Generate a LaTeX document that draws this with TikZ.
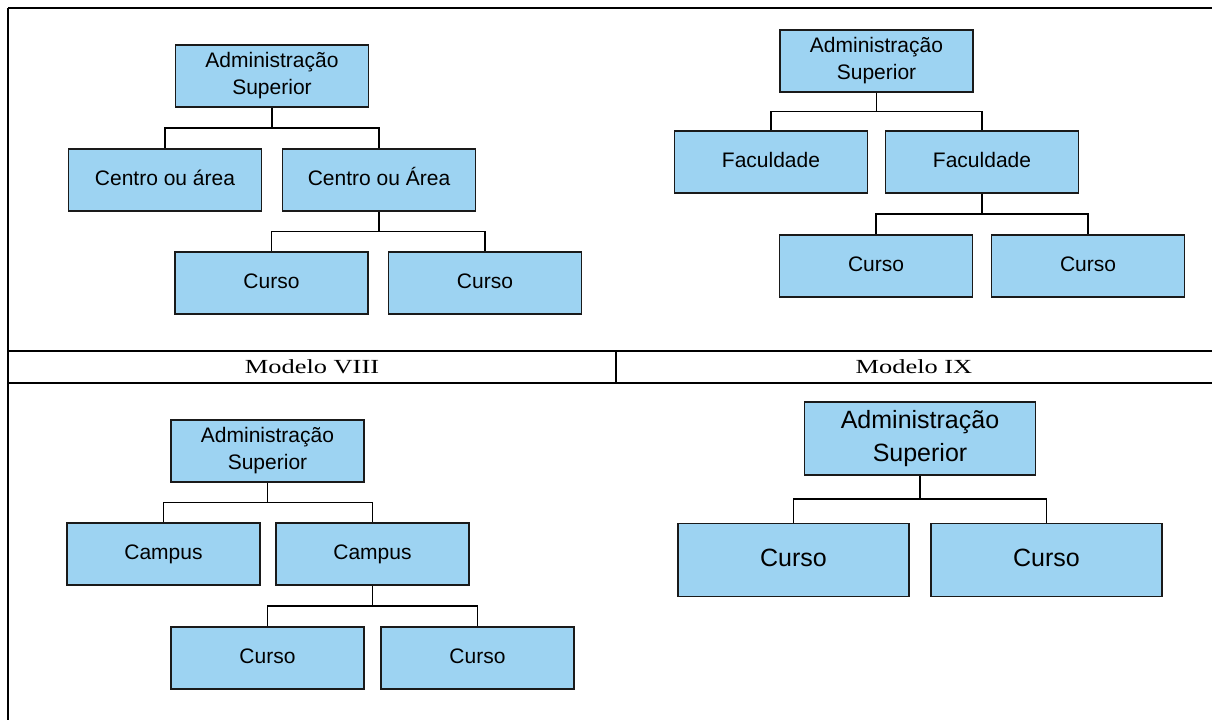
\documentclass[tikz,border=0pt]{standalone}
\usepackage{fontspec}
\usetikzlibrary{calc}
\newfontfamily\arialf{Liberation Sans}
\newfontfamily\timesf{Liberation Serif}
\definecolor{boxblue}{HTML}{9DD3F2}
\definecolor{boxline}{HTML}{1A1A1A}
\tikzset{
  orgbox/.style={draw=boxline, fill=boxblue, line width=1.6pt, inner sep=0pt, align=center,
    font=\arialf\fontsize{21}{27}\selectfont, minimum width=193pt, minimum height=62pt},
  onebox/.style={orgbox, text height=15pt, text depth=5pt},
  bigbox/.style={orgbox, font=\arialf\fontsize{25}{33}\selectfont, minimum width=231pt, minimum height=73pt},
  bigone/.style={bigbox, text height=18pt, text depth=6pt},
  conn/.style={draw=black, line width=1.7pt},
  frameline/.style={draw=black, line width=1.8pt},
  caption/.style={font=\timesf\fontsize{20}{24}\selectfont, xscale=1.32, inner sep=0pt}
}
\begin{document}
\begin{tikzpicture}[x=1pt,y=-1pt]
\useasboundingbox (0,0) rectangle (1212,720);
% table lines
\draw[frameline] (8,8) -- (1212,8);
\draw[frameline] (8,8) -- (8,720);
\draw[frameline, line width=1.5pt] (8,351) -- (1212,351);
\draw[frameline, line width=2pt] (8,383) -- (1212,383);
\draw[frameline, line width=1.5pt] (616,351) -- (616,383);
\node[caption] (capa) at (312,367) {Modelo VIII};
\node[caption] (capb) at (914,367) {Modelo IX};

% --- Top-left: Modelo VIII
\node[orgbox] (a1) at (272,76) {Administração\\Superior};
\node[onebox] (b1) at (165,180) {Centro ou área};
\node[onebox] (b2) at (379,180) {Centro ou Área};
\node[onebox] (c1) at (271.5,283) {Curso};
\node[onebox] (c2) at (485,283) {Curso};
\coordinate (m1) at ($(a1.south)!.5!(b1.north)$);
\draw[conn] (a1.south) -- (a1.south |- m1);
\draw[conn] (b1.north) |- (m1) -| (b2.north);
\coordinate (m2) at ($(b2.south)!.5!(c1.north)$);
\draw[conn] (b2.south) -- (b2.south |- m2);
\draw[conn] (c1.north) |- (m2) -| (c2.north);

% --- Top-right: Modelo IX
\node[orgbox] (a2) at (876.5,61) {Administração\\Superior};
\node[onebox] (f1) at (771,162) {Faculdade};
\node[onebox] (f2) at (982,162) {Faculdade};
\node[onebox] (k1) at (876,266) {Curso};
\node[onebox] (k2) at (1088,266) {Curso};
\coordinate (m3) at ($(a2.south)!.5!(f1.north)$);
\draw[conn] (a2.south) -- (a2.south |- m3);
\draw[conn] (f1.north) |- (m3) -| (f2.north);
\coordinate (m4) at ($(f2.south)!.5!(k1.north)$);
\draw[conn] (f2.south) -- (f2.south |- m4);
\draw[conn] (k1.north) |- (m4) -| (k2.north);

% --- Bottom-left
\node[orgbox] (a3) at (267.5,451) {Administração\\Superior};
\node[onebox] (p1) at (163.5,554) {Campus};
\node[onebox] (p2) at (372.5,554) {Campus};
\node[onebox] (q1) at (267.5,658) {Curso};
\node[onebox] (q2) at (477.5,658) {Curso};
\coordinate (m5) at ($(a3.south)!.5!(p1.north)$);
\draw[conn] (a3.south) -- (a3.south |- m5);
\draw[conn] (p1.north) |- (m5) -| (p2.north);
\coordinate (m6) at ($(p2.south)!.5!(q1.north)$);
\draw[conn] (p2.south) -- (p2.south |- m6);
\draw[conn] (q1.north) |- (m6) -| (q2.north);

% --- Bottom-right
\node[bigbox] (a4) at (920,438.5) {Administração\\Superior};
\node[bigone] (r1) at (793.5,560) {Curso};
\node[bigone] (r2) at (1046.5,560) {Curso};
\coordinate (m7) at ($(a4.south)!.5!(r1.north)$);
\draw[conn] (a4.south) -- (a4.south |- m7);
\draw[conn] (r1.north) |- (m7) -| (r2.north);
\end{tikzpicture}
\end{document}
